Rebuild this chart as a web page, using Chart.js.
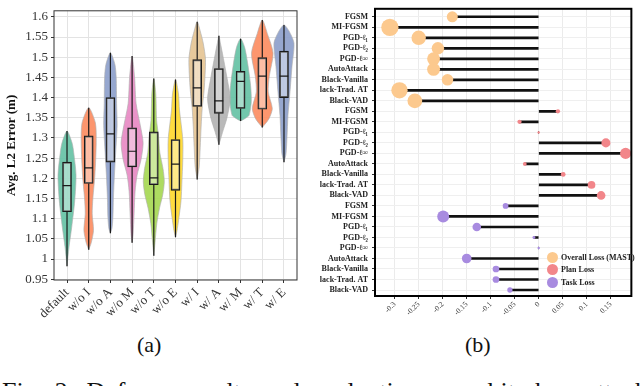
<!DOCTYPE html>
<html><head><meta charset="utf-8">
<script src="https://cdn.jsdelivr.net/npm/chart.js@4/dist/chart.umd.min.js"></script>
<style>
body{margin:0;background:#fff;width:640px;height:386px;overflow:hidden;position:relative;font-family:"Liberation Serif","Times New Roman",serif;}
#wa{position:absolute;left:0;top:0;width:305px;height:330px;}
#wb{position:absolute;left:320px;top:0;width:320px;height:330px;}
.sub{position:absolute;font-size:22px;line-height:22px;color:#111;}
#cap{position:absolute;left:2px;top:379px;font-size:26px;line-height:26px;word-spacing:5px;white-space:nowrap;color:#111;}
#lg{position:absolute;left:547px;top:251px;font-weight:bold;font-size:8px;color:#222;}
#lg .it{height:12.5px;display:flex;align-items:center;}
#lg .dot{width:11px;height:11px;border-radius:50%;margin-right:3px;}
</style></head>
<body>
<div id="wa"><canvas id="ca"></canvas></div>
<div id="wb"><canvas id="cb"></canvas></div>
<div class="sub" style="left:137px;top:334px;">(a)</div>
<div class="sub" style="left:465px;top:334px;">(b)</div>
<div id="cap">Fig. 2: Defense results and evaluation on white-box attacks</div>
<div id="lg"></div>
<script>
// ---------- Panel (a) data ----------
const ablationLabels = ['default','w/o I','w/o A','w/o M','w/o T','w/o E','w/ I','w/ A','w/ M','w/ T','w/ E'];
const ablationColors = ['#66C2A5','#FC8D62','#8DA0CB','#E78AC3','#A6D854','#FFD92F','#E5C494','#B3B3B3','#66C2A5','#FC8D62','#8DA0CB'];
const errorTicks = [0.95,1,1.05,1.1,1.15,1.2,1.25,1.3,1.35,1.4,1.45,1.5,1.55,1.6];
const violinLevels = [
  [0.982,1.03,1.079,1.144,1.208,1.264,1.288,1.317],
  [1.023,1.04,1.071,1.112,1.151,1.208,1.288,1.337,1.375],
  [1.064,1.075,1.103,1.151,1.208,1.264,1.33,1.385,1.45,1.482,1.511],
  [1.04,1.06,1.112,1.168,1.208,1.247,1.288,1.33,1.385,1.45,1.503],
  [1.008,1.04,1.088,1.127,1.16,1.192,1.224,1.264,1.305,1.344,1.409,1.447],
  [1.054,1.07,1.095,1.144,1.208,1.247,1.296,1.369,1.409,1.445],
  [1.197,1.228,1.276,1.332,1.373,1.421,1.494,1.535,1.565,1.588],
  [1.283,1.3,1.317,1.349,1.397,1.453,1.51,1.535,1.553],
  [1.342,1.349,1.356,1.39,1.43,1.486,1.525,1.546],
  [1.326,1.335,1.349,1.373,1.414,1.453,1.51,1.559,1.592],
  [1.24,1.26,1.3,1.356,1.414,1.477,1.535,1.565,1.58]
];
const violinDensity = [
  [0,2,4.7,7.7,9,6.7,5,0],
  [0,2.5,4.8,3.5,4.2,6.2,7.5,6.7,0],
  [0,1.5,2.5,3,4,5.3,6.7,6.2,5.8,4.5,0],
  [0,1,2,3,5,9,11,8.3,4,2.5,0],
  [0,1.2,3,5.8,9,10.5,9.2,6,4.7,2.8,2,0],
  [0,1.5,3,5.5,6.7,7.3,7.3,4,3,0],
  [0,2,3,4,5,7,8.3,6,3,0],
  [0,2,4,8,11.3,7.8,3.5,1.5,0],
  [0,5,8.5,10.7,10,7,4,0],
  [0,3,7,10,6,7,10.8,5,0],
  [0,2,3,4,6,8,10,5,0]
];
const boxQ1     = [1.117,1.187,1.24,1.228,1.184,1.17,1.378,1.361,1.373,1.371,1.40];
const boxMedian = [1.182,1.226,1.31,1.267,1.201,1.235,1.424,1.392,1.44,1.453,1.453];
const boxQ3     = [1.240,1.305,1.40,1.325,1.315,1.296,1.494,1.472,1.465,1.499,1.515];

// ---------- Panel (b) data ----------
const attackNames = ['FGSM','MI-FGSM','PGD-ℓ₁','PGD-ℓ₂','PGD-ℓ∞','AutoAttack','Black-Vanilla','Black-Trad. AT','Black-VAD'];
const lossNames = ['Overall Loss (MAST)','Plan Loss','Task Loss'];
const lossColors = ['#FCC98E','#F2868A','#A88BE0'];
const overallLoss = [-0.180,-0.310,-0.250,-0.210,-0.219,-0.219,-0.190,-0.290,-0.258];
const planLoss    = [0.040,-0.040,0.000,0.140,0.181,-0.029,0.051,0.110,0.130];
const taskLoss    = [-0.069,-0.199,-0.129,-0.010,0.000,-0.150,-0.089,-0.089,-0.060];
const deltaTicks = [-0.3,-0.25,-0.2,-0.15,-0.1,-0.05,0,0.05,0.1,0.15];

Chart.defaults.font.family = "'Liberation Serif','Times New Roman',serif";
Chart.defaults.animation = false;

const frame = {
  id:'frame',
  afterDraw(chart, args, o){
    const {ctx, chartArea:a} = chart;
    ctx.save(); ctx.strokeStyle = o.color; ctx.lineWidth = o.width;
    ctx.strokeRect(a.left, a.top, a.right-a.left, a.bottom-a.top);
    ctx.restore();
  }
};

function rgba(hex, a){
  const n = parseInt(hex.slice(1),16);
  return `rgba(${(n>>16)&255},${(n>>8)&255},${n&255},${a})`;
}

// ---------- Chart (a) ----------
const unitPx = 243/11.2;
const violinSets = ablationLabels.map((lab,i)=>{
  const lv = violinLevels[i], dn = violinDensity[i], pts = [];
  for (let k=0;k<lv.length;k++) pts.push({x:i+dn[k]/unitPx, y:lv[k]});
  for (let k=lv.length-2;k>=0;k--) pts.push({x:i-dn[k]/unitPx, y:lv[k]});
  return {type:'line', label:lab, data:pts, fill:'shape', backgroundColor:rgba(ablationColors[i],0.92),
          borderColor:'rgba(175,175,175,0.8)', borderWidth:0.8, pointRadius:0, tension:0.25, order:4};
});
const whiskerPts = [];
ablationLabels.forEach((_,i)=>{
  const lv = violinLevels[i];
  whiskerPts.push({x:i,y:lv[0]},{x:i,y:boxQ1[i]},{x:i,y:null},{x:i,y:boxQ3[i]},{x:i,y:lv[lv.length-1]},{x:i,y:null});
});
const medianPts = [];
ablationLabels.forEach((_,i)=>{
  medianPts.push({x:i-0.2,y:boxMedian[i]},{x:i+0.2,y:boxMedian[i]},{x:i,y:null});
});

new Chart(document.getElementById('ca'), {
  type:'line',
  data:{datasets:[
    ...violinSets,
    {type:'line', data:whiskerPts, borderColor:'#1a1a1a', borderWidth:1.2, pointRadius:0, fill:false, spanGaps:false, order:3},
    {type:'bar', data:ablationLabels.map((_,i)=>({x:i,y:[boxQ1[i],boxQ3[i]]})), backgroundColor:'rgba(255,255,255,0.38)',
     borderColor:'#1a1a1a', borderWidth:1.2, borderSkipped:false, barThickness:9, order:2},
    {type:'line', data:medianPts, borderColor:'#1a1a1a', borderWidth:1.2, pointRadius:0, fill:false, spanGaps:false, order:1}
  ]},
  options:{
    responsive:true, maintainAspectRatio:false,
    layout:{padding:{top:5,right:8,left:0,bottom:0}},
    plugins:{legend:{display:false}, tooltip:{enabled:false}, frame:{color:'#333',width:1}},
    scales:{
      x:{type:'linear', min:-0.6, max:10.6, offset:false,
         afterBuildTicks:s=>{s.ticks = ablationLabels.map((_,i)=>({value:i}));},
         afterFit:s=>{s.height = 50;},
         ticks:{autoSkip:false, maxRotation:45, minRotation:45, color:'#333', font:{size:13}, padding:2,
                callback:v=>ablationLabels[Math.round(v)]},
         grid:{offset:false, color:'#E3E3E3', tickColor:'#333', tickLength:3}, border:{display:false}},
      y:{type:'linear', min:0.948, max:1.615, offset:false,
         afterBuildTicks:s=>{s.ticks = errorTicks.map(v=>({value:v}));},
         afterFit:s=>{s.width = 54;},
         ticks:{autoSkip:false, color:'#333', font:{size:13}, padding:3, callback:v=>String(+(+v).toFixed(2))},
         title:{display:true, text:'Avg. L2 Error (m)', color:'#111', font:{size:13, weight:'bold'}},
         grid:{offset:false, color:'#E3E3E3', tickColor:'#333', tickLength:3}, border:{display:false}}
    }
  },
  plugins:[frame]
});

// ---------- Chart (b) ----------
const lossSeries = [overallLoss, planLoss, taskLoss];
const rowLabels = [].concat(attackNames, attackNames, attackNames);
const stemData = [];
lossSeries.forEach((s,g)=>s.forEach((v,k)=>stemData.push({x:[0,v], y:g*attackNames.length+k})));
const bubbleSets = lossSeries.map((s,g)=>({
  type:'bubble', label:lossNames[g],
  data:s.map((v,k)=>({x:v, y:g*attackNames.length+k, r:1.2+24*Math.abs(v)})),
  backgroundColor:lossColors[g], borderWidth:0, order:1
}));

new Chart(document.getElementById('cb'), {
  type:'bubble',
  data:{datasets:[
    {type:'bar', indexAxis:'y', data:stemData, backgroundColor:'#111', borderWidth:0, barThickness:2, order:2},
    ...bubbleSets
  ]},
  options:{
    responsive:true, maintainAspectRatio:false,
    layout:{padding:{top:7,right:5,left:0,bottom:0}},
    plugins:{legend:{display:false}, tooltip:{enabled:false}, frame:{color:'#000',width:2}},
    scales:{
      x:{type:'linear', min:-0.341, max:0.193, offset:false,
         afterBuildTicks:s=>{s.ticks = deltaTicks.map(v=>({value:v}));},
         afterFit:s=>{s.height = 34;},
         ticks:{autoSkip:false, maxRotation:45, minRotation:45, color:'#333', font:{size:7.5}, padding:1,
                callback:v=>Math.abs(v)<1e-9?'0':String(+(+v).toFixed(2))},
         grid:{offset:false, color:'#EBEBEB', tickColor:'#333', tickLength:3}, border:{display:false}},
      y:{type:'linear', reverse:true, min:-0.76, max:26.57, offset:false,
         afterBuildTicks:s=>{s.ticks = rowLabels.map((_,i)=>({value:i}));},
         afterFit:s=>{s.width = 55;},
         ticks:{autoSkip:false, color:'#222', font:{size:8, weight:'bold'}, padding:4,
                callback:v=>rowLabels[Math.round(v)]},
         grid:{offset:false, color:'#EFEFEF', tickColor:'#333', tickLength:3}, border:{display:false}}
    }
  },
  plugins:[frame]
});

// legend for (b)
const lg = document.getElementById('lg');
lossNames.forEach((n,g)=>{
  const it = document.createElement('div'); it.className='it';
  const d = document.createElement('div'); d.className='dot'; d.style.background = lossColors[g];
  const t = document.createElement('span'); t.textContent = n;
  it.appendChild(d); it.appendChild(t); lg.appendChild(it);
});
</script>
</body></html>
